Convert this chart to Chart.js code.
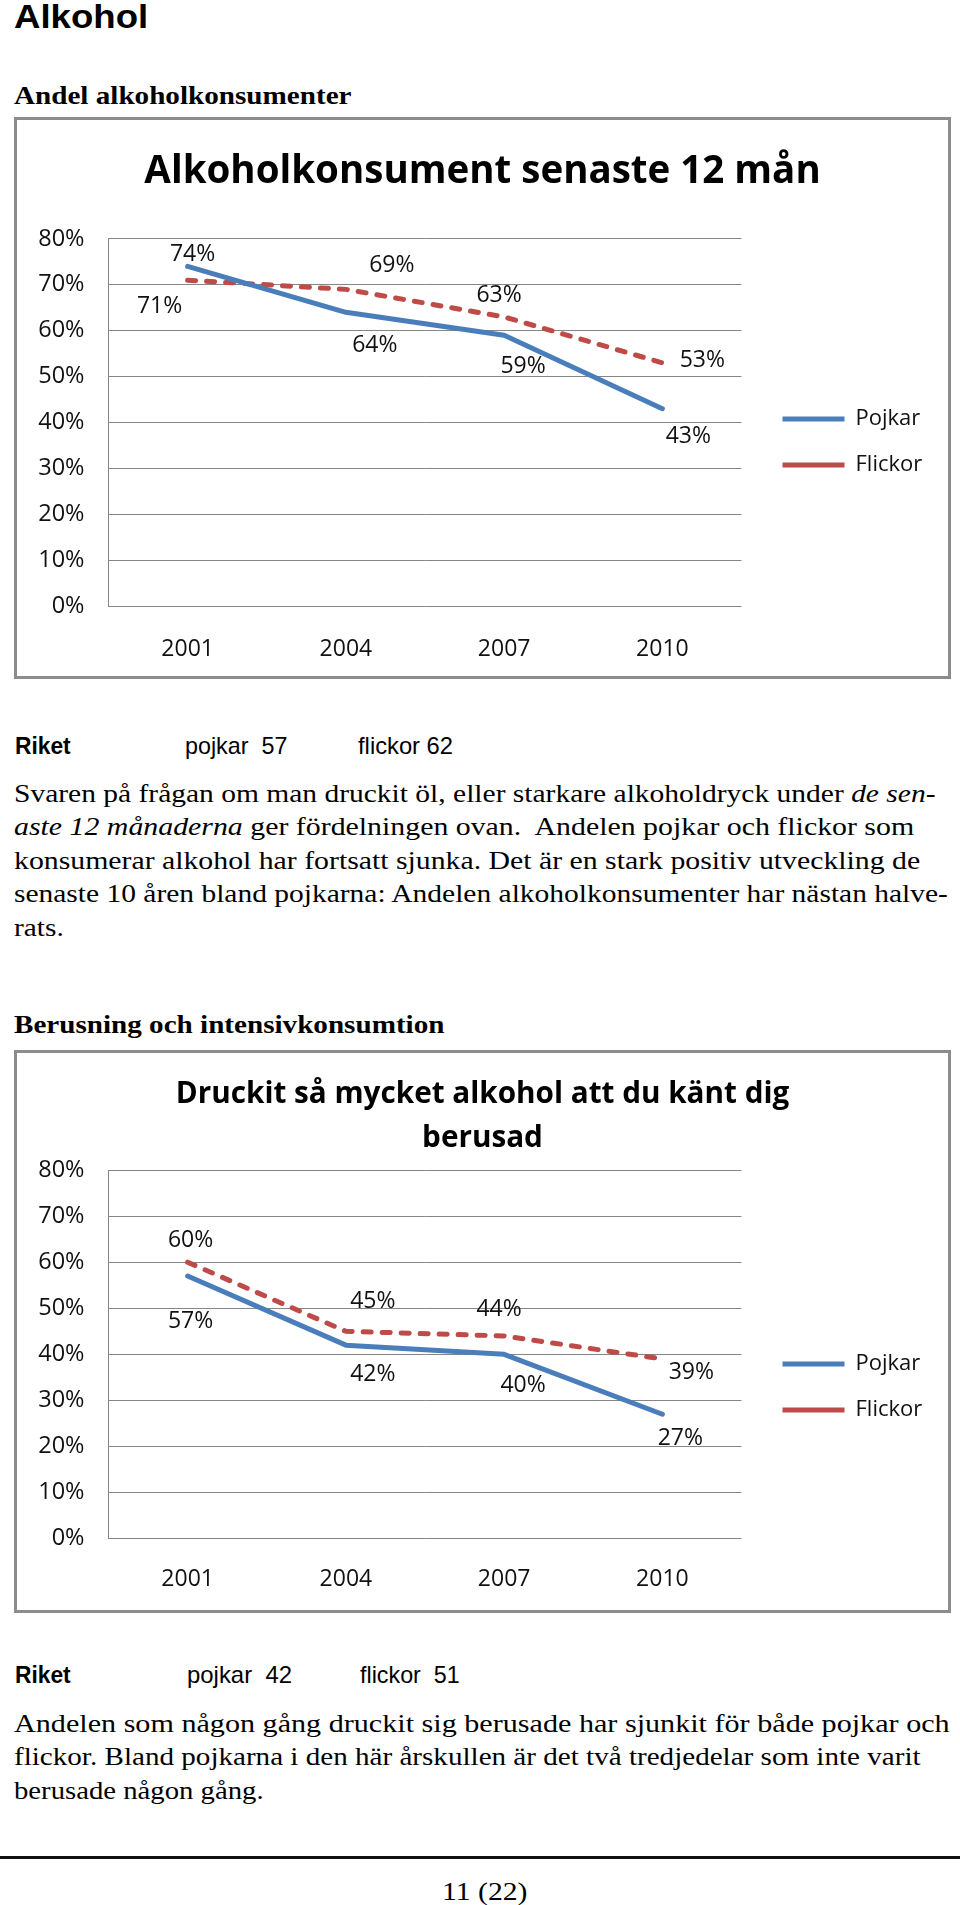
<!DOCTYPE html>
<html><head><meta charset="utf-8">
<script src="https://cdn.jsdelivr.net/npm/chart.js@4.4.1/dist/chart.umd.min.js"></script>
<style>
html,body{margin:0;padding:0;background:#fff;}
body{width:960px;height:1905px;position:relative;overflow:hidden;color:#000;}
.t{position:absolute;white-space:nowrap;transform-origin:0 0;line-height:1;}
.serif{font-family:"Liberation Serif","Times New Roman",Times,serif;font-size:25.5px;}
.sans{font-family:"Liberation Sans",Arial,sans-serif;font-size:24px;}
.box{position:absolute;box-sizing:border-box;border:3px solid #8c8c8c;background:#fff;}
canvas{position:absolute;}
</style></head>
<body>
<div class="t sans" style="font-size:32.5px;font-weight:bold;left:13.5px;top:0.8px" data-w="134">Alkohol</div>
<div class="t serif" style="font-weight:bold;left:13.5px;top:82.6px" data-w="337">Andel alkoholkonsumenter</div>

<div class="box" style="left:14px;top:117px;width:937px;height:562px"></div>
<canvas id="c1" width="931" height="556" style="left:17px;top:120px;width:931px;height:556px"></canvas>

<div class="t sans" style="font-weight:bold;left:15px;top:733.7px" data-w="56">Riket</div>
<div class="t sans" style="left:185px;top:733.7px" data-w="102">pojkar&nbsp; 57</div>
<div class="t sans" style="left:358px;top:733.7px" data-w="95">flickor 62</div>

<div class="t serif" style="left:13.5px;top:780.6px" data-w="922">Svaren på frågan om man druckit öl, eller starkare alkoholdryck under <i>de sen-</i></div>
<div class="t serif" style="left:13.5px;top:814.2px" data-w="900"><i>aste 12 månaderna</i> ger fördelningen ovan.&nbsp; Andelen pojkar och flickor som</div>
<div class="t serif" style="left:13.5px;top:847.8px" data-w="906">konsumerar alkohol har fortsatt sjunka. Det är en stark positiv utveckling de</div>
<div class="t serif" style="left:13.5px;top:881.4px" data-w="934">senaste 10 åren bland pojkarna: Andelen alkoholkonsumenter har nästan halve-</div>
<div class="t serif" style="left:13.5px;top:915px" data-w="49.5">rats.</div>

<div class="t serif" style="font-weight:bold;left:13.5px;top:1011.9px" data-w="430.5">Berusning och intensivkonsumtion</div>

<div class="box" style="left:14px;top:1050px;width:937px;height:563px"></div>
<canvas id="c2" width="931" height="557" style="left:17px;top:1053px;width:931px;height:557px"></canvas>

<div class="t sans" style="font-weight:bold;left:15px;top:1663px" data-w="56">Riket</div>
<div class="t sans" style="left:187px;top:1663px" data-w="104.6">pojkar&nbsp; 42</div>
<div class="t sans" style="left:360px;top:1663px" data-w="100">flickor&nbsp; 51</div>

<div class="t serif" style="left:13.5px;top:1710.6px" data-w="936">Andelen som någon gång druckit sig berusade har sjunkit för både pojkar och</div>
<div class="t serif" style="left:13.5px;top:1744.2px" data-w="906">flickor. Bland pojkarna i den här årskullen är det två tredjedelar som inte varit</div>
<div class="t serif" style="left:13.5px;top:1777.8px" data-w="250">berusade någon gång.</div>

<div style="position:absolute;left:0;top:1856px;width:960px;height:3px;background:#111"></div>
<div class="t serif" style="left:442px;top:1878.6px" data-w="85">11 (22)</div>

<script>
// ---- data ----
const years = ['2001', '2004', '2007', '2010'];
const seriesNames = ['Pojkar', 'Flickor'];
const yTickLabels = ['0%', '10%', '20%', '30%', '40%', '50%', '60%', '70%', '80%'];
const consumersBoys = [74, 64, 59, 43];
const consumersGirls = [71, 69, 63, 53];
const drunkBoys = [57, 42, 40, 27];
const drunkGirls = [60, 45, 44, 39];
const title1 = 'Alkoholkonsument senaste 12 mån';
const title2 = ['Druckit så mycket alkohol att du känt dig', 'berusad'];

// fit html text widths to the reference page (horizontal stretch)
document.querySelectorAll('[data-w]').forEach(el => {
  const w = el.offsetWidth;
  const target = parseFloat(el.dataset.w);
  el.style.transform = 'scaleX(' + (target / w).toFixed(4) + ')';
});

const SANS = '"Open Sans", "Noto Sans", sans-serif';
const BLUE = '#4a7ebb', RED = '#be4b48', GRID = '#868686', TXT = '#111';

const pointLabels = {
  id: 'pointLabels',
  afterDatasetsDraw(chart, args, opts) {
    const ctx = chart.ctx;
    ctx.save();
    ctx.font = opts.size + 'px ' + SANS;
    ctx.fillStyle = TXT;
    ctx.textAlign = 'center';
    ctx.textBaseline = 'middle';
    chart.data.datasets.forEach((ds, di) => {
      chart.getDatasetMeta(di).data.forEach((pt, i) => {
        const o = opts.offsets[di][i];
        ctx.fillText(ds.data[i] + '%', pt.x + o[0], pt.y + o[1]);
      });
    });
    ctx.restore();
  }
};
const legendPlacer = {
  id: 'legendPlacer',
  beforeDraw(chart, args, opts) {
    const lg = chart.legend;
    if (!lg) return;
    const pad = lg.options.labels.padding;
    const fs = lg.options.labels.font.size;
    const w = lg.width, h = lg.height;
    lg.left = opts.x - pad; lg.right = lg.left + w;
    lg.top = opts.y - fs / 2 - pad; lg.bottom = lg.top + Math.max(h, 200);
  }
};

function makeChart(id, cfg) {
  return new Chart(document.getElementById(id), {
    type: 'line',
    data: {
      labels: years,
      datasets: [
        { label: seriesNames[0], data: cfg.boys, borderColor: BLUE, backgroundColor: BLUE, borderWidth: 5,
          borderCapStyle: 'round', borderJoinStyle: 'round', pointRadius: 0, tension: 0, fill: false },
        { label: seriesNames[1], data: cfg.girls, borderColor: RED, backgroundColor: RED, borderWidth: 5,
          borderDash: [8, 11], borderCapStyle: 'round', borderJoinStyle: 'round', pointRadius: 0, tension: 0, fill: false }
      ]
    },
    options: {
      responsive: false, animation: false, devicePixelRatio: 1,
      layout: { padding: 0 },
      plugins: {
        title: { display: true, text: cfg.title, color: '#000',
          font: { family: SANS, size: cfg.titleSize, weight: 'bold', lineHeight: cfg.titleLH },
          padding: { top: cfg.titlePadTop, bottom: cfg.titlePadBottom } },
        legend: { position: 'chartArea', align: 'start',
          labels: { usePointStyle: true, pointStyle: 'line', pointStyleWidth: 62, padding: 24,
            color: TXT, font: { family: SANS, size: 22 } } },
        tooltip: { enabled: false },
        pointLabels: { size: 23, offsets: cfg.offsets },
        legendPlacer: { x: 765.5, y: cfg.legendY }
      },
      scales: {
        x: { type: 'category', offset: true,
          grid: { display: false, drawTicks: false }, border: { display: false },
          ticks: { color: TXT, font: { family: SANS, size: 23 }, padding: cfg.xPad },
          afterFit(s) { s.height = cfg.xH; } },
        y: { min: 0, max: 80,
          grid: { color: GRID, lineWidth: 1, drawTicks: false },
          border: { display: true, color: GRID, width: 1 },
          ticks: { stepSize: 10, color: TXT, font: { family: SANS, size: 23.5 }, padding: 24,
            callback: (v, i) => yTickLabels[i] },
          afterFit(s) { s.width = 91.5; } },
        legendSpace: { type: 'linear', position: 'right', display: true,
          grid: { display: false, drawTicks: false }, border: { display: false },
          ticks: { display: false },
          afterFit(s) { s.width = 206.5; } }
      }
    },
    plugins: [pointLabels, legendPlacer]
  });
}

makeChart('c1', {
  boys: consumersBoys, girls: consumersGirls, title: title1, titleSize: 38.5, titleLH: 1.2,
  titlePadTop: 29.4, titlePadBottom: 43.3, xH: 70, xPad: 30, legendY: 299,
  offsets: [[[5, -12], [29, 33], [19, 31], [26, 28]], [[-28, 26], [46, -24], [-5, -21], [40, -2]]]
});
makeChart('c2', {
  boys: drunkBoys, girls: drunkGirls, title: title2, titleSize: 29.7, titleLH: 1.46,
  titlePadTop: 20.3, titlePadBottom: 10, xH: 71.3, xPad: 27.3, legendY: 311,
  offsets: [[[3, 45], [27, 29], [19, 31], [18, 24]], [[3, -22], [27, -30], [-5, -26], [29, 13]]]
});
</script>
</body></html>
